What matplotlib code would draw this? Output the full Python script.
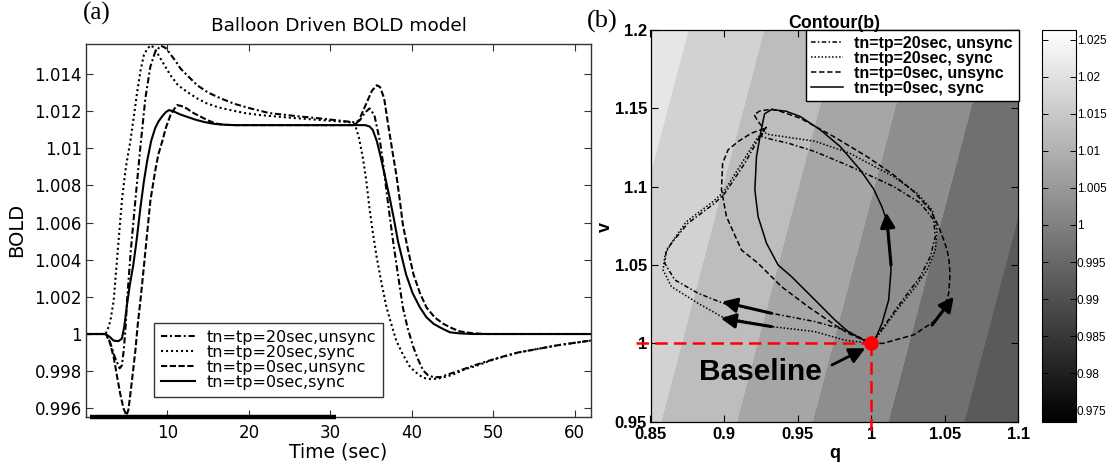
import numpy as np
import matplotlib
matplotlib.use("Agg")
import matplotlib.pyplot as plt
from matplotlib.colors import Normalize
from matplotlib.cm import ScalarMappable
from matplotlib.font_manager import FontProperties

W, H, DPI = 1112, 468, 100

# ---------------- panel (a): BOLD time courses ----------------
LABELS_A = ["tn=tp=20sec,unsync", "tn=tp=20sec,sync", "tn=tp=0sec,unsync", "tn=tp=0sec,sync"]

t_unsync20 = [0, 2.4, 3.0, 3.5, 4.13, 4.4, 4.63, 4.85, 5.04, 5.5,
              6.06, 6.68, 7.29, 7.9, 8.5, 9.2, 9.8, 10.4, 11.0, 11.6,
              12.5, 13.65, 15.0, 16.5, 18.2, 20.2, 22.5, 25.5, 29.0, 33.0,
              33.6, 34.2, 34.8, 35.4, 36.1, 36.5, 36.9, 37.3, 37.7, 38.3,
              38.9, 39.5, 40.2, 40.8, 41.4, 42.0, 42.7, 43.5, 44.7, 46.0,
              47.6, 49.0, 50.9, 53.0, 55.5, 58.0, 62.0]
bold_unsync20 = [1.0, 1.0, 0.9995, 0.9988, 0.99815, 0.9983, 0.9991, 1.0003, 1.0018, 1.0045,
                 1.0072, 1.0101, 1.0127, 1.0144, 1.0152, 1.01553, 1.0154, 1.01505, 1.0147, 1.0143,
                 1.0139, 1.0134, 1.0130, 1.0127, 1.0124, 1.01215, 1.0119, 1.01175, 1.0116, 1.0114,
                 1.0115, 1.0119, 1.01215, 1.0118, 1.01036, 1.0091, 1.00768, 1.0063, 1.005, 1.0032,
                 1.00143, 1.0003, 0.99928, 0.9986, 0.99803, 0.99778, 0.99767, 0.99768, 0.99786, 0.99805,
                 0.9983, 0.9985, 0.99875, 0.999, 0.9992, 0.9994, 0.99965]

t_sync20 = [0, 2.4, 2.7, 2.99, 3.4, 3.9, 4.43, 4.9, 5.45, 5.9,
            6.27, 6.7, 7.09, 7.5, 7.95, 8.4, 8.93, 9.6, 10.37, 11.3,
            12.42, 13.6, 14.88, 16.3, 17.75, 19.5, 21.44, 25.0, 29.0, 32.5,
            33.0, 33.5, 34.0, 34.4, 34.8, 35.2, 35.7, 36.3, 36.9, 37.5,
            38.1, 38.9, 39.8, 40.6, 41.4, 42.2, 43.1, 44.0, 45.0, 46.5,
            48.0, 50.0, 53.0, 55.5, 58.0, 62.0]
bold_sync20 = [1.0, 1.0, 1.0003, 1.0007, 1.0018, 1.0045, 1.0073, 1.0090, 1.0104, 1.0118,
               1.0130, 1.0142, 1.0150, 1.01535, 1.01555, 1.0154, 1.0150, 1.0145, 1.01394, 1.0134,
               1.01304, 1.0127, 1.01241, 1.0122, 1.01206, 1.0119, 1.01179, 1.01165, 1.01152, 1.0114,
               1.0113, 1.0106, 1.00947, 1.0083, 1.00679, 1.0055, 1.00411, 1.0027, 1.00143, 1.0005,
               0.99964, 0.9989, 0.99821, 0.9979, 0.99764, 0.99758, 0.99759, 0.99768, 0.9978, 0.9981,
               0.9983, 0.99862, 0.999, 0.9992, 0.9994, 0.99965]

t_unsync0 = [0, 2.4, 2.8, 3.4, 3.8, 4.2, 4.6, 4.96, 5.2, 5.45,
             5.75, 6.06, 6.35, 6.68, 7.1, 7.5, 7.91, 8.5, 8.9, 9.35,
             9.8, 10.37, 10.8, 11.2, 11.7, 12.4, 13.2, 14.1, 15.0, 15.9,
             17.0, 18.0, 25.0, 33.0, 33.5, 34.0, 34.6, 35.1, 35.7, 36.1,
             36.6, 37.1, 37.6, 38.1, 38.5, 38.9, 39.5, 40.2, 41.0, 41.8,
             42.8, 43.9, 45.0, 45.9, 47.5, 49.2, 62.0]
bold_unsync0 = [1.0, 1.0, 0.99975, 0.99875, 0.99775, 0.99678, 0.9960, 0.99562, 0.9959, 0.99678,
                0.9979, 0.9991, 1.0005, 1.0018, 1.0036, 1.0054, 1.0072, 1.0088, 1.0097, 1.01036,
                1.0111, 1.01179, 1.0121, 1.01233, 1.01228, 1.01214, 1.0119, 1.0117, 1.0115, 1.01134,
                1.01127, 1.01125, 1.01125, 1.01125, 1.0115, 1.0120, 1.0126, 1.0131, 1.0134, 1.0133,
                1.0127, 1.01126, 1.0099, 1.00858, 1.0073, 1.0059, 1.0046, 1.00322, 1.0022, 1.00143,
                1.0009, 1.00054, 1.0003, 1.00014, 1.00004, 1.0, 1.0]

t_sync0 = [0, 2.4, 2.9, 3.4, 4.0, 4.4, 4.7, 5.04, 5.4, 5.8,
           6.2, 6.68, 7.1, 7.5, 8.0, 8.5, 8.9, 9.4, 9.8, 10.2,
           10.8, 11.6, 12.4, 13.4, 14.5, 15.7, 17.0, 18.5, 25.0, 30.0,
           34.3, 34.8, 35.2, 35.7, 36.2, 36.7, 37.3, 37.8, 38.3, 38.8,
           39.3, 40.1, 41.0, 41.8, 42.7, 43.7, 44.7, 46.0, 47.5, 62.0]
bold_sync0 = [1.0, 1.0, 0.99985, 0.99964, 0.99962, 0.99975, 1.0004, 1.0016, 1.0027, 1.0037,
              1.0050, 1.0068, 1.0082, 1.0093, 1.0104, 1.0111, 1.01145, 1.01175, 1.01195, 1.01206,
              1.01198, 1.01182, 1.0117, 1.01155, 1.01142, 1.01132, 1.01127, 1.01125, 1.01125, 1.01125,
              1.01125, 1.01118, 1.0110, 1.0104, 1.0095, 1.0085, 1.0073, 1.0062, 1.0050, 1.0041,
              1.0032, 1.0022, 1.00143, 1.0009, 1.00054, 1.0003, 1.00009, 1.00003, 1.0, 1.0]

STIM_ON, STIM_OFF = 0.5, 30.7

XTICKS_A = [10, 20, 30, 40, 50, 60]
XTICK_LABELS_A = ["10", "20", "30", "40", "50", "60"]
YTICKS_A = [0.996, 0.998, 1.0, 1.002, 1.004, 1.006, 1.008, 1.01, 1.012, 1.014]
YTICK_LABELS_A = ["0.996", "0.998", "1", "1.002", "1.004", "1.006", "1.008", "1.01", "1.012", "1.014"]

# ---------------- panel (b): (q, v) trajectories over BOLD contour ----------------
LABELS_B = ["tn=tp=20sec, unsync", "tn=tp=20sec, sync", "tn=tp=0sec, unsync", "tn=tp=0sec, sync"]

q_unsync20 = [1.0, 0.9821, 0.9617, 0.9322, 0.8993, 0.8823, 0.8665, 0.8597, 0.8608, 0.8660,
              0.8755, 0.8937, 0.9005, 0.9141, 0.9230, 0.9283, 0.9262, 0.9254, 0.9330, 0.9435,
              0.9617, 0.9843, 1.0152, 1.0333, 1.0424, 1.0435, 1.0401, 1.0333, 1.0197, 1.0084, 1.0]
v_unsync20 = [1.0, 1.0086, 1.0139, 1.0192, 1.0256, 1.0320, 1.0405, 1.0511, 1.0596, 1.0660,
              1.0767, 1.0895, 1.0958, 1.1150, 1.1300, 1.1375, 1.1345, 1.1320, 1.1300, 1.1278,
              1.1224, 1.1135, 1.1001, 1.0895, 1.0788, 1.0681, 1.0554, 1.0426, 1.0256, 1.0107, 1.0]

q_sync20 = [1.0, 0.9821, 0.9617, 0.9322, 0.8982, 0.8823, 0.8642, 0.8585, 0.8600, 0.8645,
            0.8742, 0.8925, 0.9000, 0.9130, 0.9225, 0.9290, 0.9270, 0.9290, 0.9435, 0.9617,
            0.9850, 1.0152, 1.0311, 1.0413, 1.0447, 1.0435, 1.0379, 1.0300, 1.0180, 1.0080, 1.0]
v_sync20 = [1.0, 1.0020, 1.0075, 1.0107, 1.0171, 1.0256, 1.0362, 1.0469, 1.0570, 1.0645,
            1.0775, 1.0905, 1.0970, 1.1165, 1.1310, 1.1385, 1.1355, 1.1335, 1.1315, 1.1290,
            1.1215, 1.1064, 1.0958, 1.0852, 1.0724, 1.0596, 1.0469, 1.0360, 1.0220, 1.0090, 1.0]

q_unsync0 = [1.0, 1.008, 1.0163, 1.0288, 1.0424, 1.0492, 1.0526, 1.0535, 1.0528, 1.0515,
             1.0492, 1.0458, 1.0401, 1.0288, 1.0152, 0.9971, 0.9744, 0.9517, 0.9370, 0.9322,
             0.9240, 0.9204, 0.9231, 0.9270, 0.9186, 0.9095, 0.9027, 0.8990, 0.8982, 0.9016,
             0.9118, 0.9231, 0.9390, 0.9571, 0.9753, 0.9843, 1.0]
v_unsync0 = [1.0, 1.0, 1.0022, 1.0054, 1.0139, 1.0213, 1.0320, 1.0443, 1.0530, 1.0596,
             1.0660, 1.0745, 1.0852, 1.0969, 1.1075, 1.1192, 1.1320, 1.1437, 1.1485, 1.1495,
             1.1482, 1.1459, 1.1416, 1.1370, 1.1342, 1.1288, 1.1235, 1.1150, 1.0980, 1.0809,
             1.0596, 1.0511, 1.0362, 1.0234, 1.0117, 1.0064, 1.0]

q_sync0 = [1.0, 1.0034, 1.0073, 1.0118, 1.0134, 1.0124, 1.0102, 1.0073, 1.0016, 0.9925,
           0.9789, 0.9653, 0.9517, 0.9420, 0.9322, 0.9275, 0.9250, 0.9220, 0.9209, 0.9231,
           0.9288, 0.9367, 0.9458, 0.9617, 0.9753, 0.9843, 0.9930, 1.0]
v_sync0 = [1.0, 1.0043, 1.0128, 1.0277, 1.0469, 1.0596, 1.0790, 1.0870, 1.0985, 1.1107,
           1.1256, 1.1363, 1.1448, 1.1482, 1.1492, 1.1465, 1.1352, 1.1192, 1.0980, 1.0809,
           1.0639, 1.0500, 1.0426, 1.0277, 1.0149, 1.0075, 1.0030, 1.0]

BASELINE_Q, BASELINE_V = 1.0, 1.0

# BOLD surface over (q, v): planar approximation, iso-lines tilted in q-v
FIELD_REF_Z, FIELD_REF_Q, FIELD_GAIN, FIELD_TILT = 1.0, 0.960, 0.1942, 0.28
BAND_LEVELS = [0.96, 0.98, 0.99, 1.0, 1.01, 1.02, 1.03, 1.04]
BAND_GRAYS = ["#5a5a5a", "#707070", "#8e8e8e", "#a6a6a6", "#bdbdbd", "#d2d2d2", "#e6e6e6"]

XTICKS_B = [0.85, 0.9, 0.95, 1.0, 1.05, 1.1]
XTICK_LABELS_B = ["0.85", "0.9", "0.95", "1", "1.05", "1.1"]
YTICKS_B = [0.95, 1.0, 1.05, 1.1, 1.15, 1.2]
YTICK_LABELS_B = ["0.95", "1", "1.05", "1.1", "1.15", "1.2"]

CBAR_MIN, CBAR_MAX = 0.97342, 1.02635
CBAR_TICKS = [0.975, 0.98, 0.985, 0.99, 0.995, 1.0, 1.005, 1.01, 1.015, 1.02, 1.025]
CBAR_LABELS = ["0.975", "0.98", "0.985", "0.99", "0.995", "1", "1.005", "1.01", "1.015", "1.02", "1.025"]


def px_rect(x0, y0, x1, y1):
    return [x0 / W, 1 - y1 / H, (x1 - x0) / W, (y1 - y0) / H]


fig = plt.figure(figsize=(W / DPI, H / DPI), dpi=DPI)
ax_a = fig.add_axes(px_rect(86, 44, 591, 417))
ax_b = fig.add_axes(px_rect(650.5, 30, 1018.5, 421.7))
cax = fig.add_axes(px_rect(1042, 30, 1075.5, 421.7))

REG = "DejaVu Sans"
ARIAL = "Liberation Sans"

# ---- panel (a) ----
styles_a = [(0, (3, 1.3, 1, 1.3)), (0, (1, 1.4)), (0, (3, 1.2)), "-"]
series_a = [(t_unsync20, bold_unsync20), (t_sync20, bold_sync20),
            (t_unsync0, bold_unsync0), (t_sync0, bold_sync0)]
for (tt, yy), ls, lab in zip(series_a, styles_a, LABELS_A):
    ax_a.plot(tt, yy, color="black", lw=1.5, linestyle=ls, label=lab)

ax_a.set_xlim(0, 62)
ax_a.set_ylim(0.99553, 1.01562)
ax_a.plot([STIM_ON, STIM_OFF], [0.99553, 0.99553], color="black", lw=3.2,
          solid_capstyle="butt", clip_on=False, zorder=6)
ax_a.set_xticks(XTICKS_A)
ax_a.set_xticklabels(XTICK_LABELS_A, fontfamily=REG, fontsize=12)
ax_a.set_yticks(YTICKS_A)
ax_a.set_yticklabels(YTICK_LABELS_A, fontfamily=REG, fontsize=12)
ax_a.tick_params(direction="in", top=True, right=True, length=5, width=0.8, color="#333333")
ax_a.tick_params(axis="y", pad=3)
ax_a.tick_params(axis="x", pad=5)
for sp in ax_a.spines.values():
    sp.set_color("#333333")
    sp.set_linewidth(1.0)

leg_a = ax_a.legend(loc="lower left", bbox_to_anchor=(0.1347, 0.0536),
                    prop=FontProperties(family=REG, size=11.5), frameon=True, fancybox=False,
                    edgecolor="#333333", framealpha=1, borderpad=0.45, labelspacing=0.0,
                    handlelength=2.1, handletextpad=0.75, borderaxespad=0)
leg_a.get_frame().set_linewidth(1.0)

fig.text(338.5 / W, 1 - 31 / H, "Balloon Driven BOLD model", ha="center", va="baseline",
         fontfamily=REG, fontsize=13.3)
fig.text(17 / W, 1 - 230 / H, "BOLD", ha="center", va="center", rotation=90,
         fontfamily=REG, fontsize=14)
fig.text(338.5 / W, 1 - 452 / H, "Time (sec)", ha="center", va="center",
         fontfamily=REG, fontsize=13.5)
fig.text(97 / W, 1 - 13 / H, "(a)", ha="center", va="center",
         fontfamily="Liberation Serif", fontsize=18)

# ---- panel (b) ----
qg = np.linspace(0.85, 1.1, 301)
vg = np.linspace(0.95, 1.2, 301)
Q, V = np.meshgrid(qg, vg)
Z = FIELD_REF_Z - FIELD_GAIN * ((Q - FIELD_TILT * (V - 0.95)) - FIELD_REF_Q)
ax_b.contourf(Q, V, Z, levels=BAND_LEVELS, colors=BAND_GRAYS, zorder=0)

styles_b = [(0, (3, 1.5, 1, 1.5)), (0, (1, 1.3)), (0, (3.5, 1.8)), "-"]
series_b = [(q_unsync20, v_unsync20), (q_sync20, v_sync20),
            (q_unsync0, v_unsync0), (q_sync0, v_sync0)]
for (qq, vv), ls, lab in zip(series_b, styles_b, LABELS_B):
    ax_b.plot(qq, vv, color="black", lw=1.1, linestyle=ls, label=lab, zorder=3)

arrow_kw = dict(arrowstyle="-|>", color="black", lw=2.2, mutation_scale=22,
                shrinkA=0, shrinkB=0)
for (x0, y0), (x1, y1) in [((1.0134, 1.050), (1.0102, 1.0835)),
                           ((1.0413, 1.0117), (1.0560, 1.0298)),
                           ((0.9322, 1.0192), (0.8986, 1.0266)),
                           ((0.9322, 1.0107), (0.8977, 1.0160))]:
    ax_b.annotate("", xy=(x1, y1), xytext=(x0, y0), arrowprops=arrow_kw, zorder=4)

red_dash = (0, (5, 2.5))
ax_b.plot([0.8402, BASELINE_Q], [BASELINE_V, BASELINE_V], color="#ff0000", lw=1.8,
          linestyle=red_dash, clip_on=False, zorder=5)
ax_b.plot([BASELINE_Q, BASELINE_Q], [BASELINE_V, 0.944], color="#ff0000", lw=1.8,
          linestyle=red_dash, clip_on=False, zorder=5)
ax_b.plot([BASELINE_Q], [BASELINE_V], marker="o", markersize=9.5, color="#ff0000",
          zorder=6, clip_on=False)
ax_b.annotate("", xy=(0.9959, 0.9969), xytext=(0.9733, 0.9862),
              arrowprops=dict(arrowstyle="-|>", color="black", lw=2.0, mutation_scale=24,
                              shrinkA=0, shrinkB=0), zorder=6)
ax_b.text(0.9245, 0.9817, "Baseline", ha="center", va="center", fontfamily=ARIAL,
          fontweight="bold", fontsize=21.5, zorder=6)

ax_b.set_xlim(0.85, 1.1)
ax_b.set_ylim(0.95, 1.2)
ax_b.set_xticks(XTICKS_B)
ax_b.set_xticklabels(XTICK_LABELS_B, fontfamily=ARIAL, fontweight="bold", fontsize=12)
ax_b.set_yticks(YTICKS_B)
ax_b.set_yticklabels(YTICK_LABELS_B, fontfamily=ARIAL, fontweight="bold", fontsize=12)
ax_b.tick_params(direction="in", top=True, right=True, length=5, width=0.8)
ax_b.tick_params(axis="y", pad=2.5)
ax_b.tick_params(axis="x", pad=4)
for sp in ax_b.spines.values():
    sp.set_color("black")
    sp.set_linewidth(0.9)

leg_b = ax_b.legend(loc="upper right", prop=FontProperties(family=ARIAL, weight="bold", size=11.5),
                    frameon=True, fancybox=False, edgecolor="black", framealpha=1,
                    borderpad=0.35, labelspacing=0.0, handlelength=2.0, handletextpad=0.7,
                    borderaxespad=0)
leg_b.get_frame().set_linewidth(1.0)
leg_b.set_zorder(8)

fig.text(834 / W, 1 - 28 / H, "Contour(b)", ha="center", va="baseline", fontfamily=ARIAL,
         fontweight="bold", fontsize=12.8)
fig.text(605 / W, 1 - 227 / H, "v", ha="center", va="center", rotation=90,
         fontfamily=ARIAL, fontweight="bold", fontsize=13)
fig.text(835 / W, 1 - 454 / H, "q", ha="center", va="center",
         fontfamily=ARIAL, fontweight="bold", fontsize=13)
fig.text(602 / W, 1 - 21 / H, "(b)", ha="center", va="center",
         fontfamily="Liberation Serif", fontsize=19)

# ---- colour bar ----
sm = ScalarMappable(norm=Normalize(CBAR_MIN, CBAR_MAX), cmap="gray")
cb = fig.colorbar(sm, cax=cax, ticks=CBAR_TICKS)
cb.set_ticklabels(CBAR_LABELS)
cb.outline.set_linewidth(0.8)
cax.tick_params(direction="in", left=True, right=True, length=4, width=0.7, pad=1)
for lbl in cax.get_yticklabels():
    lbl.set_fontfamily(ARIAL)
    lbl.set_fontsize(8.5)

fig.savefig("out.png", dpi=DPI)
